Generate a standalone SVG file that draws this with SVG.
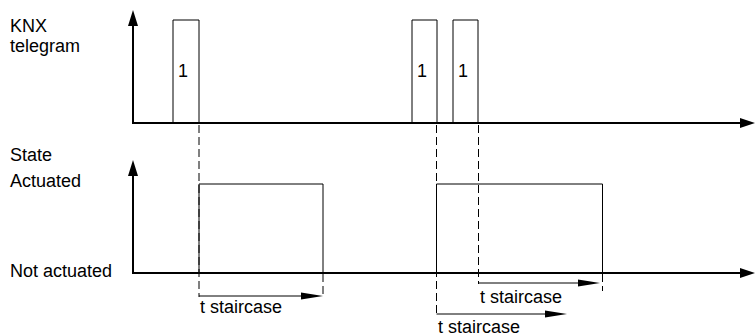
<svg xmlns="http://www.w3.org/2000/svg" width="755" height="336" viewBox="0 0 755 336">
<style>
text{font-family:"Liberation Sans",Arial,sans-serif;font-size:18px;fill:#000}
.ax{stroke:#000;stroke-width:2;fill:none}
.bx{stroke:#000;stroke-width:1;fill:none}
.ds{stroke:#000;stroke-width:1;fill:none;stroke-dasharray:8 4}
.ar{fill:#000}
</style>
<rect width="755" height="336" fill="#fff"/>
<g id="labels">
<text x="10" y="32">KNX</text>
<text x="10" y="52">telegram</text>
<text x="10" y="161">State</text>
<text x="10" y="187">Actuated</text>
<text x="10" y="277">Not actuated</text>
</g>
<g id="axis-telegram">
<line class="ax" x1="133" y1="124" x2="133" y2="22"/>
<polygon class="ar" points="133,10 128,26 138,26"/>
<line class="ax" x1="132" y1="123" x2="742" y2="123"/>
<polygon class="ar" points="755,123 740,118 740,128"/>
</g>
<g id="axis-state">
<line class="ax" x1="133" y1="274" x2="133" y2="172"/>
<polygon class="ar" points="133,160 128,176 138,176"/>
<line class="ax" x1="132" y1="273" x2="742" y2="273"/>
<polygon class="ar" points="755,273 740,268 740,278"/>
</g>
<g id="pulse1">
<polyline class="bx" points="173,123 173,20 199,20 199,123"/>
<text x="178" y="77">1</text>
</g>
<g id="pulse2">
<polyline class="bx" points="412,123 412,20 437,20 437,123"/>
<text x="417" y="77">1</text>
</g>
<g id="pulse3">
<polyline class="bx" points="453,123 453,20 478,20 478,123"/>
<text x="458" y="77">1</text>
</g>
<g id="state1">
<polyline class="bx" points="199,273 199,184 323,184 323,273"/>
</g>
<g id="state2">
<polyline class="bx" points="436.5,273 436.5,184 602.5,184 602.5,273"/>
</g>
<g id="connectors">
<line class="ds" x1="199" y1="125" x2="199" y2="297"/>
<line class="ds" x1="323" y1="274" x2="323" y2="297"/>
<line class="ds" x1="436.5" y1="125" x2="436.5" y2="315"/>
<line class="ds" x1="478.5" y1="125" x2="478.5" y2="284"/>
<line class="ds" x1="602.5" y1="274" x2="602.5" y2="291"/>
<line class="bx" x1="199" y1="296" x2="305" y2="296"/>
<polygon class="ar" points="323,296 301,292.5 301,299.5"/>
<line class="bx" x1="478.5" y1="283" x2="582" y2="283"/>
<polygon class="ar" points="600,283 578,279.5 578,286.5"/>
<line class="bx" x1="436.5" y1="314" x2="549" y2="314"/>
<polygon class="ar" points="567,314 545,310.5 545,317.5"/>
</g>
<g id="durations">
<text x="200" y="313">t staircase</text>
<text x="480" y="303">t staircase</text>
<text x="438" y="333">t staircase</text>
</g>
</svg>
